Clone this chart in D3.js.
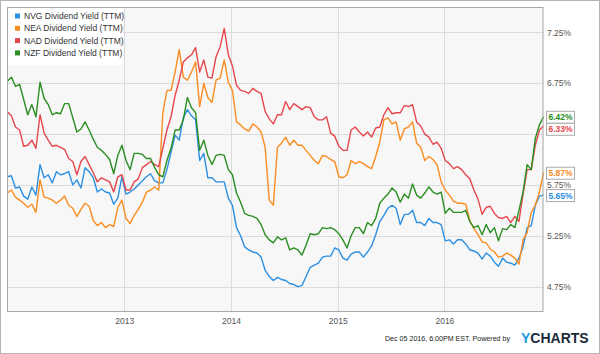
<!DOCTYPE html>
<html><head><meta charset="utf-8">
<script src="https://cdn.jsdelivr.net/npm/d3@7"></script>
<style>
body{margin:0;background:#fff}
svg{display:block;font-family:"Liberation Sans",Arial,sans-serif}
</style>
</head><body>
<svg id="chart" width="600" height="354"></svg>
<script>
// ---- data ----
const seriesNames = ["NVG Dividend Yield (TTM)", "NEA Dividend Yield (TTM)", "NAD Dividend Yield (TTM)", "NZF Dividend Yield (TTM)"];
const seriesColors = ["#2b8fe2", "#fb8c1f", "#e5484c", "#2a8e22"];
const startDate = "2011-11-28";
const stepDays = 14;
const nvg = [
5.83,5.84,5.72,5.73,5.64,5.61,5.73,5.65,5.95,5.82,
5.85,5.77,5.88,5.85,5.86,5.88,5.75,5.80,5.72,5.92,
5.88,5.82,5.68,5.71,5.68,5.67,5.56,5.62,5.83,5.66,
5.68,5.71,5.75,5.79,5.83,5.86,5.79,5.77,5.77,5.90,
6.07,6.24,6.19,6.41,6.49,6.43,6.39,5.99,6.06,5.82,
5.82,5.78,5.78,5.78,5.62,5.55,5.33,5.25,5.14,5.11,
5.09,5.08,5.04,4.91,4.85,4.81,4.84,4.82,4.81,4.78,
4.77,4.75,4.76,4.85,4.94,4.96,4.98,5.04,5.05,5.05,
5.13,5.11,5.03,5.01,5.07,5.09,5.09,5.04,5.09,5.15,
5.26,5.39,5.45,5.52,5.55,5.52,5.36,5.46,5.46,5.50,
5.38,5.38,5.35,5.42,5.38,5.38,5.36,5.20,5.21,5.17,
5.21,5.21,5.17,5.11,5.10,5.08,5.02,5.08,5.05,4.99,
4.95,5.03,4.99,4.98,4.96,5.03,5.14,5.33,5.35,5.55,
5.64,5.65];
const nea = [
5.67,5.70,5.63,5.60,5.57,5.53,5.56,5.48,5.80,5.63,
5.62,5.60,5.57,5.60,5.64,5.55,5.52,5.44,5.51,5.57,
5.54,5.40,5.35,5.38,5.33,5.36,5.34,5.53,5.60,5.42,
5.37,5.45,5.51,5.58,5.68,5.70,5.73,5.70,6.46,6.68,
6.68,6.86,7.08,6.81,6.78,6.86,6.96,6.52,6.75,6.61,
6.56,6.78,6.80,6.98,6.76,6.68,6.37,6.34,6.30,6.28,
6.35,6.32,6.27,6.12,5.60,5.55,6.12,6.16,6.22,6.14,
6.19,6.14,6.14,6.09,6.04,5.99,5.96,6.04,6.03,6.00,
5.98,5.83,5.82,5.85,5.99,5.96,5.98,5.96,5.93,5.91,
6.03,6.17,6.39,6.41,6.35,6.37,6.19,6.30,6.32,6.37,
6.16,6.12,5.99,6.03,6.00,5.95,5.78,5.70,5.65,5.59,
5.57,5.57,5.56,5.40,5.32,5.26,5.19,5.18,5.12,5.09,
5.04,5.05,5.08,5.06,5.03,4.97,5.21,5.28,5.48,5.55,
5.68,5.87];
const nad = [
6.47,6.43,6.32,6.29,6.13,6.14,6.19,6.11,6.44,6.26,
6.19,6.13,6.14,6.12,6.10,6.01,5.98,5.85,5.98,6.03,
5.95,5.87,5.78,5.82,5.80,5.78,5.68,5.83,5.85,5.70,
5.70,5.78,5.81,5.92,5.95,5.98,5.95,5.93,6.11,6.29,
6.42,6.63,6.78,6.96,7.00,7.03,7.10,6.86,6.98,6.81,
6.80,7.01,7.11,7.29,7.03,6.92,6.73,6.68,6.67,6.65,
6.70,6.67,6.65,6.47,6.40,6.35,6.44,6.44,6.57,6.49,
6.55,6.52,6.49,6.52,6.51,6.42,6.39,6.39,6.42,6.26,
6.23,6.13,6.09,6.09,6.29,6.32,6.27,6.23,6.27,6.22,
6.31,6.32,6.44,6.51,6.45,6.46,6.46,6.53,6.52,6.54,
6.37,6.33,6.25,6.22,6.15,6.17,6.11,5.99,5.96,5.91,
5.93,5.90,5.85,5.81,5.70,5.61,5.46,5.53,5.54,5.47,
5.43,5.42,5.44,5.38,5.44,5.39,5.66,5.90,5.90,6.14,
6.29,6.33];
const nzf = [
6.77,6.81,6.72,6.74,6.59,6.44,6.54,6.42,6.76,6.60,
6.54,6.44,6.46,6.45,6.55,6.55,6.41,6.27,6.30,6.37,
6.29,6.20,6.12,6.09,6.05,6.00,5.86,6.04,6.14,5.99,
5.90,6.06,6.06,6.05,6.01,6.01,5.92,5.85,5.83,5.99,
6.11,6.29,6.29,6.39,6.61,6.51,6.46,6.09,6.19,6.04,
5.95,6.04,6.05,6.04,5.90,5.85,5.67,5.58,5.47,5.45,
5.44,5.42,5.36,5.26,5.21,5.18,5.24,5.21,5.23,5.11,
5.13,5.11,5.06,5.16,5.27,5.26,5.27,5.33,5.32,5.33,
5.31,5.27,5.21,5.13,5.25,5.33,5.33,5.27,5.38,5.35,
5.42,5.57,5.62,5.66,5.72,5.68,5.58,5.66,5.62,5.76,
5.65,5.62,5.67,5.73,5.68,5.66,5.68,5.47,5.52,5.48,
5.48,5.48,5.50,5.39,5.33,5.35,5.26,5.36,5.28,5.33,
5.20,5.32,5.31,5.36,5.33,5.50,5.68,5.95,5.90,6.21,
6.34,6.42];
const yTicks = [4.75, 5.25, 5.75, 6.25, 6.75, 7.25];
const yearTicks = ["2013", "2014", "2015", "2016"];
const xDomain = ["2011-11-27", "2016-12-05"];
const yDomain = [4.5, 7.5];
const footerText = "Dec 05 2016, 6:00PM EST.  Powered by";

// ---- drawing ----
const svg = d3.select("#chart");
const W = 600, H = 354;
const plot = {x0: 7, x1: 543.5, y0: 7, y1: 312};
const parse = d3.timeParse("%Y-%m-%d");
const start = parse(startDate);
const values = [nvg, nea, nad, nzf];
const dates = nvg.map((_, i) => d3.timeDay.offset(start, stepDays * i));

const x = d3.scaleTime().domain(xDomain.map(parse)).range([plot.x0, plot.x1]);
const y = d3.scaleLinear().domain(yDomain).range([plot.y1, plot.y0]);

// last value label positions (collision resolved)
const last = values.map((v, i) => ({v: v[v.length - 1], c: seriesColors[i]}));
last.sort((a, b) => b.v - a.v);
let prev = -Infinity;
last.forEach(d => { let cy = y(d.v); if (cy < prev + 12) cy = prev + 12; d.cy = cy; prev = cy; });
// tick labels hidden behind a value box (as in the reference)
const visibleTicks = yTicks.filter(t => !last.some(d => Math.abs(y(t) - d.cy) < 8));

// outer border
svg.append("rect").attr("x", 0.5).attr("y", 0.5).attr("width", W - 1).attr("height", H - 1)
  .attr("fill", "#fff").attr("stroke", "#b4b4b4");

// plot background
svg.append("rect").attr("x", plot.x0).attr("y", plot.y0)
  .attr("width", plot.x1 - plot.x0).attr("height", plot.y1 - plot.y0)
  .attr("fill", "#f7f7f7");

// horizontal grid
svg.append("g").selectAll("line").data(yTicks).join("line")
  .attr("x1", plot.x0).attr("x2", plot.x1)
  .attr("y1", d => Math.round(y(d)) + 0.5).attr("y2", d => Math.round(y(d)) + 0.5)
  .attr("stroke", "#dcdcdc");

// vertical grid (years)
const yearDates = yearTicks.map(t => parse(t + "-01-01"));
svg.append("g").selectAll("line").data(yearDates).join("line")
  .attr("x1", d => Math.round(x(d)) + 0.5).attr("x2", d => Math.round(x(d)) + 0.5)
  .attr("y1", plot.y0).attr("y2", plot.y1)
  .attr("stroke", "#dcdcdc");

// lines
const line = d3.line().x((d, i) => x(dates[i])).y(d => y(d));
svg.append("g").selectAll("path").data(values).join("path")
  .attr("d", d => line(d))
  .attr("fill", "none")
  .attr("stroke", (d, i) => seriesColors[i])
  .attr("stroke-width", 1.4)
  .attr("stroke-linejoin", "round");

// plot frame
svg.append("rect").attr("x", plot.x0 + 0.5).attr("y", plot.y0 + 0.5)
  .attr("width", plot.x1 - plot.x0 - 1).attr("height", plot.y1 - plot.y0 - 1)
  .attr("fill", "none").attr("stroke", "#a8a8a8");

// right axis
const yAxis = d3.axisRight(y).tickValues(visibleTicks).tickSize(0).tickPadding(0)
  .tickFormat(d => d.toFixed(2) + "%");
const ya = svg.append("g").attr("transform", `translate(547,0)`).call(yAxis);
ya.select(".domain").remove();
ya.selectAll("text").attr("font-size", 8.5).attr("fill", "#555")
  .attr("font-family", "Liberation Sans, Arial, sans-serif");

// bottom axis
const xAxis = d3.axisBottom(x).tickValues(yearDates).tickSize(0).tickPadding(0)
  .tickFormat(d3.timeFormat("%Y"));
const xa = svg.append("g").attr("transform", `translate(0,${plot.y1 + 6})`).call(xAxis);
xa.select(".domain").remove();
xa.selectAll("text").attr("font-size", 8.5).attr("fill", "#555")
  .attr("font-family", "Liberation Sans, Arial, sans-serif");

// last value labels
const lab = svg.append("g").selectAll("g").data(last).join("g")
  .attr("transform", d => `translate(546,${d.cy})`);
lab.append("rect").attr("x", 0.5).attr("y", -5.5).attr("width", 28).attr("height", 12)
  .attr("fill", "#fff").attr("stroke", "#aaa");
lab.append("text").attr("x", 2.5).attr("y", 0.5).attr("dy", "0.35em")
  .attr("font-size", 8.5).attr("font-weight", "bold").attr("fill", d => d.c)
  .text(d => d.v.toFixed(2) + "%");

// legend
const lg = svg.append("g");
lg.append("rect").attr("x", plot.x0 + 1).attr("y", plot.y0 + 1).attr("width", 115).attr("height", 57)
  .attr("fill", "#fff");
const items = lg.selectAll("g").data(seriesNames).join("g")
  .attr("transform", (d, i) => `translate(15,${16 + i * 12.3})`);
items.append("rect").attr("x", 0).attr("y", -2.5).attr("width", 5).attr("height", 5)
  .attr("fill", (d, i) => seriesColors[i]);
items.append("text").attr("x", 9).attr("y", 0).attr("dy", "0.35em")
  .attr("font-size", 8.5).attr("fill", "#333").text(d => d);

// footer
svg.append("text").attr("x", 385).attr("y", 341)
  .attr("font-size", 7.1).attr("fill", "#222")
  .text(footerText);
const logo = svg.append("text").attr("x", 521).attr("y", 343)
  .attr("font-size", 14).attr("font-weight", "bold");
logo.append("tspan").attr("fill", "#1e9be0").text("Y");
logo.append("tspan").attr("fill", "#1c2b3c").text("CHARTS");
</script>
</body></html>
